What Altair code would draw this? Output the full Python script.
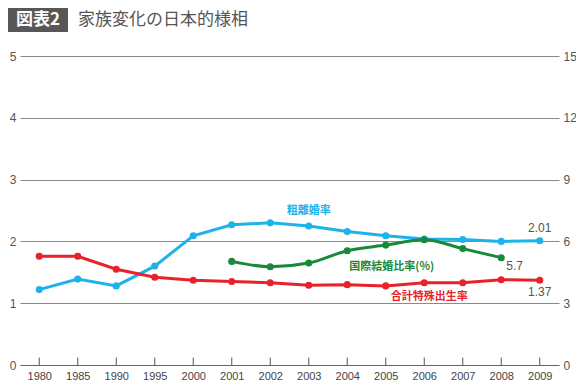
import altair as alt
import pandas as pd

# ---- data ----
years = ["1980", "1985", "1990", "1995", "2000", "2001", "2002", "2003",
         "2004", "2005", "2006", "2007", "2008", "2009"]
divorce = [1.22, 1.39, 1.28, 1.60, 2.09, 2.27, 2.30, 2.25, 2.16, 2.09, 2.04, 2.03, 2.00, 2.01]
fertility = [1.76, 1.76, 1.55, 1.42, 1.37, 1.35, 1.33, 1.29, 1.30, 1.28, 1.33, 1.33, 1.38, 1.37]
intl_years = ["2001", "2002", "2003", "2004", "2005", "2006", "2007", "2008"]
intl = [5.03, 4.77, 4.95, 5.55, 5.82, 6.08, 5.65, 5.21]

series_names = ["粗離婚率", "合計特殊出生率", "国際結婚比率(%)"]
series_colors = ["#1DB2EA", "#E8222B", "#17893B"]

left_ticks = [0, 1, 2, 3, 4, 5]
right_ticks = [0, 3, 6, 9, 12, 15]

# series name labels: anchor year, anchor value (left scale), text, colour
name_year = ["2003", "2005", "2006"]
name_val = [2.50, 1.58, 1.10]
name_text = ["粗離婚率", "国際結婚比率(%)", "合計特殊出生率"]
name_color = ["#1DB2EA", "#17893B", "#E8222B"]
name_dx = [0, 6, 5]
# value labels
val_year = ["2009", "2009"]
val_val = [2.21, 1.18]
val_text = ["2.01", "1.37"]
val_left_year = ["2008"]
val_left_val = [1.60]
val_left_text = ["5.7"]

title_box_text = ["図表2"]
title_text = ["家族変化の日本的様相"]

FONT = "Liberation Sans"
JP = "Noto Sans CJK JP"

left_df = pd.DataFrame({
    "year": years * 2,
    "value": divorce + fertility,
    "series": [series_names[0]] * len(years) + [series_names[1]] * len(years),
})
right_df = pd.DataFrame({"year": intl_years, "value": intl, "series": series_names[2]})
tick_df = pd.DataFrame({"year": years})
name_df = pd.DataFrame({"year": name_year, "value": name_val, "text": name_text,
                        "c": name_color, "dx": name_dx})
val_df = pd.DataFrame({"year": val_year, "value": val_val, "text": val_text})
vall_df = pd.DataFrame({"year": val_left_year, "value": val_left_val, "text": val_left_text})
tb_df = pd.DataFrame({"t": title_box_text})
tt_df = pd.DataFrame({"t": title_text})

xscale = alt.Scale(type="point", domain=years, padding=0.5)
xenc = alt.X("year:O", scale=xscale, sort=years,
             axis=alt.Axis(title=None, labelAngle=0, labelFont=FONT, labelFontSize=11,
                           labelColor="#444", ticks=False, labelPadding=5,
                           domainColor="#666", domainWidth=1))
xsimple = alt.X("year:O", scale=xscale, sort=years)
color = alt.Color("series:N", scale=alt.Scale(domain=series_names, range=series_colors), legend=None)

yleft = alt.Y("value:Q", scale=alt.Scale(domain=[0, 5]),
              axis=alt.Axis(title=None, values=left_ticks, format="d", grid=True,
                            gridColor="#8a8a8a", gridWidth=1, domain=False, ticks=False,
                            labelPadding=4, labelFont=FONT, labelFontSize=12,
                            labelColor="#555"))

base_left = alt.Chart(left_df).encode(x=xenc, y=yleft, color=color, detail="series:N")
left_lines = base_left.mark_line(strokeWidth=3)
left_points = base_left.mark_circle(size=50, opacity=1)

ticks = alt.Chart(tick_df).mark_rule(color="#555", strokeWidth=1).encode(
    x=xsimple, y=alt.datum(0), y2=alt.datum(0.12))

names = alt.Chart(name_df).mark_text(font=JP, fontSize=11, fontWeight="bold", align="center",
                                     baseline="middle").encode(
    x=xsimple, y="value:Q",
    text="text:N", color=alt.Color("c:N", scale=None), xOffset=alt.XOffset("dx:Q", scale=None))

vals = alt.Chart(val_df).mark_text(font=FONT, fontSize=12, align="center",
                                   baseline="middle", color="#555").encode(
    x=xsimple, y="value:Q", text="text:N")
vals_l = alt.Chart(vall_df).mark_text(font=FONT, fontSize=12, align="left", dx=5,
                                      baseline="middle", color="#555").encode(
    x=xsimple, y="value:Q", text="text:N")

box = alt.Chart(tb_df).mark_rect(color="#575757").encode(
    x=alt.value(-12), x2=alt.value(48), y=alt.value(-48), y2=alt.value(-24))
box_text = alt.Chart(tb_df).mark_text(font=JP, fontSize=17, fontWeight="bold", color="white",
                                      align="center", baseline="middle").encode(
    x=alt.value(18), y=alt.value(-36), text="t:N")
title = alt.Chart(tt_df).mark_text(font=JP, fontSize=17, color="#555", align="left",
                                   baseline="middle").encode(
    x=alt.value(58), y=alt.value(-36), text="t:N")

left_layer = alt.layer(left_lines, left_points, ticks, names, vals, vals_l, box, box_text, title)

yright = alt.Y("value:Q", scale=alt.Scale(domain=[0, 15]),
               axis=alt.Axis(title=None, orient="right", values=right_ticks, format="d",
                             grid=False, domain=False, ticks=False, labelPadding=4,
                             labelFont=FONT, labelFontSize=12, labelColor="#555"))
base_right = alt.Chart(right_df).encode(x=xenc, y=yright, color=color)
right_layer = alt.layer(base_right.mark_line(strokeWidth=3, interpolate="monotone"),
                        base_right.mark_circle(size=50, opacity=1))

chart = alt.layer(left_layer, right_layer).resolve_scale(y="independent").properties(
    width=539, height=309,
    autosize=alt.AutoSizeParams(type="none"),
    padding={"left": 12, "top": 48, "right": 17, "bottom": 16},
    background="white",
).configure_view(stroke=None)

chart.save("out.html", embed_options={"renderer": "svg", "actions": False})
